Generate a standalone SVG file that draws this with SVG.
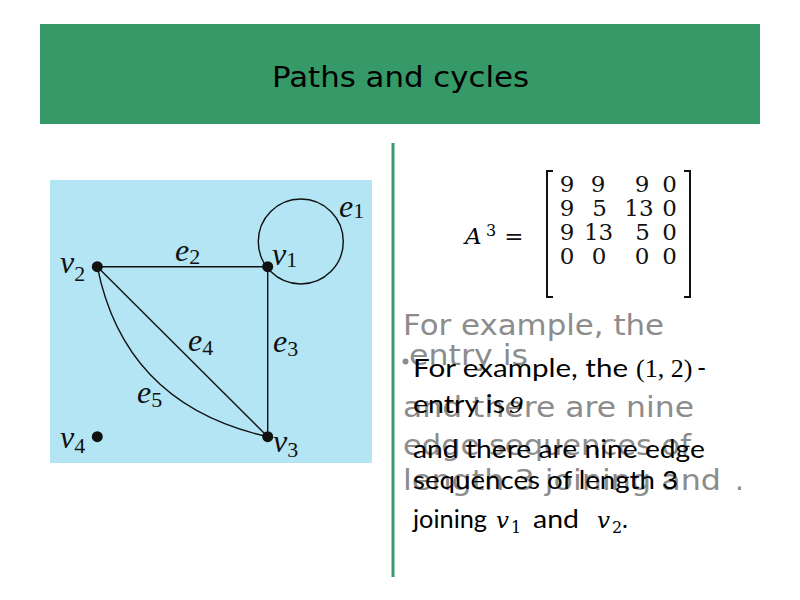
<svg xmlns="http://www.w3.org/2000/svg" width="800" height="600" viewBox="0 0 800 600">
<style>
.title{font-family:"DejaVu Sans",sans-serif;font-size:28px;fill:#000}
.lbl{font-family:"Liberation Serif",serif;font-style:italic;font-size:32px;fill:#111}
.sub{font-family:"Liberation Serif",serif;font-style:normal;font-size:22px;fill:#111}
.edge{fill:none;stroke:#111;stroke-width:1.4}
.dot{fill:#111}
.mx{font-family:"DejaVu Serif",serif;font-size:23px;fill:#111;text-anchor:middle}
.grey{font-family:"DejaVu Sans",sans-serif;font-size:28px;fill:#8c8c8c}
.blk{font-family:"Lato","Liberation Sans",sans-serif;font-size:25px;fill:#000}
.math{font-family:"Liberation Serif",serif;font-size:26px;fill:#000}
.mi{font-family:"DejaVu Serif",serif;font-style:italic;font-size:23px;fill:#000}
.ms{font-family:"DejaVu Serif",serif;font-size:16px;fill:#000}
</style>
<rect width="800" height="600" fill="#ffffff"/>
<g id="header">
<rect x="40" y="24" width="720" height="100" fill="#359a68"/>
<text class="title" x="272" y="87" textLength="257" lengthAdjust="spacingAndGlyphs">Paths and cycles</text>
</g>
<rect id="divider" x="391.5" y="143" width="3" height="434" fill="#3a9a6e"/>
<g id="graph">
<rect x="50" y="180" width="322" height="283" fill="#b3e5f5"/>
<g id="connectors">
<circle id="e1" class="edge" cx="300.8" cy="241.5" r="42.5"/>
<line id="e2" class="edge" x1="97.3" y1="266.7" x2="267.7" y2="266.7"/>
<line id="e3" class="edge" x1="267.7" y1="266.7" x2="267.7" y2="436.7"/>
<line id="e4" class="edge" x1="97.3" y1="266.7" x2="267.7" y2="436.7"/>
<path id="e5" class="edge" d="M97.3,266.7 Q125,405 267.7,436.7"/>
<text class="lbl" x="339" y="217">e<tspan class="sub" dy="1">1</tspan></text>
<text class="lbl" x="175" y="261">e<tspan class="sub" dy="3">2</tspan></text>
<text class="lbl" x="273" y="352">e<tspan class="sub" dy="4">3</tspan></text>
<text class="lbl" x="188" y="351">e<tspan class="sub" dy="4">4</tspan></text>
<text class="lbl" x="137" y="403">e<tspan class="sub" dy="4">5</tspan></text>
</g>
<g id="v1"><circle class="dot" cx="267.7" cy="266.7" r="5.5"/><text class="lbl" x="272" y="265">v<tspan class="sub" dy="2">1</tspan></text></g>
<g id="v2"><circle class="dot" cx="97.3" cy="266.7" r="5.5"/><text class="lbl" x="60" y="273">v<tspan class="sub" dy="8">2</tspan></text></g>
<g id="v3"><circle class="dot" cx="267.7" cy="436.7" r="5.5"/><text class="lbl" x="273" y="452">v<tspan class="sub" dy="5">3</tspan></text></g>
<g id="v4"><circle class="dot" cx="97.3" cy="436.7" r="5.5"/><text class="lbl" x="60" y="448">v<tspan class="sub" dy="5">4</tspan></text></g>
</g>
<g id="matrix">
<text class="mi" x="465" y="244" font-size="26">A</text>
<text class="ms" x="486" y="236">3</text>
<text class="mx" x="514" y="244" font-size="26">=</text>
<path d="M553,171 H547 V297 H553" fill="none" stroke="#111" stroke-width="2"/>
<path d="M684,171 H690 V297 H684" fill="none" stroke="#111" stroke-width="2"/>
<text class="mx" y="192"><tspan x="567">9</tspan><tspan x="598">9</tspan><tspan x="642">9</tspan><tspan x="669.5">0</tspan></text>
<text class="mx" y="216"><tspan x="567">9</tspan><tspan x="599.5">5</tspan><tspan x="639">13</tspan><tspan x="669.5">0</tspan></text>
<text class="mx" y="240"><tspan x="567">9</tspan><tspan x="598.6">13</tspan><tspan x="642.5">5</tspan><tspan x="669.5">0</tspan></text>
<text class="mx" y="264"><tspan x="567">0</tspan><tspan x="599">0</tspan><tspan x="642">0</tspan><tspan x="669.5">0</tspan></text>
</g>
<g id="grey-text">
<text class="grey" x="403" y="335" textLength="261" lengthAdjust="spacingAndGlyphs">For example, the</text>
<circle cx="405.5" cy="361.5" r="3" fill="#8c8c8c"/>
<text class="grey" x="409" y="365" textLength="119" lengthAdjust="spacingAndGlyphs">entry is</text>
<text class="grey" x="403" y="417" textLength="291" lengthAdjust="spacingAndGlyphs">and there are nine</text>
<text class="grey" x="403" y="455" textLength="288" lengthAdjust="spacingAndGlyphs">edge sequences of</text>
<text class="grey" x="403" y="490" textLength="318" lengthAdjust="spacingAndGlyphs">length 3 joining and</text>
<text class="grey" x="735" y="490">.</text>
</g>
<g id="black-text">
<text class="blk" x="413" y="377" textLength="215" lengthAdjust="spacingAndGlyphs">For example, the</text>
<text class="math" x="636" y="377">(1, 2)</text>
<text class="blk" x="697" y="377">-</text>
<text class="blk" x="413" y="413" textLength="92" lengthAdjust="spacingAndGlyphs">entry is</text>
<text class="mi" x="509" y="413">9</text>
<text class="blk" x="413" y="458" textLength="292" lengthAdjust="spacingAndGlyphs">and there are nine edge</text>
<text class="blk" x="413" y="489" textLength="265" lengthAdjust="spacingAndGlyphs">sequences of length 3</text>
<text class="blk" x="413" y="528" textLength="74" lengthAdjust="spacingAndGlyphs">joining</text>
<text class="mi" x="496" y="528">v</text><text class="ms" x="511" y="533">1</text>
<text class="blk" x="533" y="528" textLength="46" lengthAdjust="spacingAndGlyphs">and</text>
<text class="mi" x="597" y="528">v</text><text class="ms" x="612" y="533">2</text>
<text class="blk" x="622" y="528">.</text>
</g>
</svg>
